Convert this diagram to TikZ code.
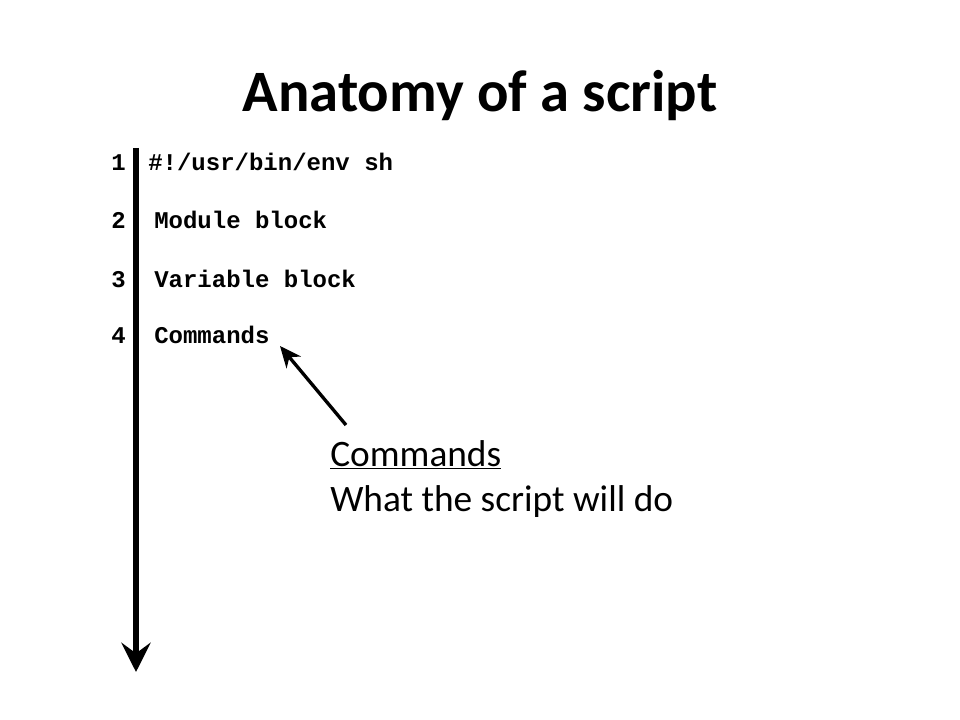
\documentclass[tikz,border=0pt]{standalone}
\usepackage{fontspec}
\setmainfont{Carlito}
\newfontfamily\codefont{Liberation Mono}
\usetikzlibrary{arrows.meta}
\tikzset{
  codetxt/.style={anchor=base west, inner sep=0pt, font=\codefont\bfseries\fontsize{18}{20}\selectfont},
  numtxt/.style={anchor=base east, inner sep=0pt, font=\codefont\bfseries\fontsize{18}{20}\selectfont},
  bodytxt/.style={anchor=base west, inner sep=0pt, font=\fontsize{28}{32}\selectfont},
}
\begin{document}
\begin{tikzpicture}[x=0.75pt,y=-0.75pt]
\useasboundingbox[fill=white] (0,0) rectangle (960,720);
\node[anchor=base, inner sep=0pt, font=\bfseries\fontsize{44}{50}\selectfont] (title) at (480,112) {Anatomy of a script};
\coordinate (ltop) at (136,148);
\coordinate (lbot) at (136,672);
\draw[line width=4.5pt, -{Stealth[length=22pt,width=22pt,inset=8pt]}] (ltop) -- (lbot);
\node[numtxt] (n1) at (126,171) {1};
\node[numtxt] (n2) at (126,229) {2};
\node[numtxt] (n3) at (126,287) {3};
\node[numtxt] (n4) at (126,344) {4};
\node[codetxt] (c1) at (148,171) {\#!/usr/bin/env sh};
\node[codetxt] (c2) at (154,229) {Module block};
\node[codetxt] (c3) at (154,287) {Variable block};
\node[codetxt] (c4) at (154,344) {Commands};
\node[bodytxt] (b1) at (330,466) {\underline{Commands}};
\node[bodytxt] (b2) at (330,511) {What the script will do};
\coordinate (astart) at (346,425);
\draw[line width=2.5pt, -{Stealth[length=16pt,width=14pt,inset=5pt]}] (astart) -- (280,346);
\end{tikzpicture}
\end{document}
